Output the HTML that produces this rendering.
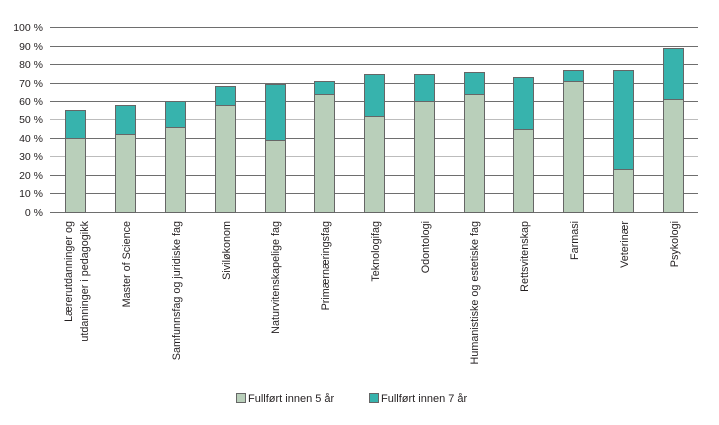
<!DOCTYPE html>
<html><head><meta charset="utf-8"><style>
html,body{margin:0;padding:0;background:#fff;}
svg{display:block;}
text{font-family:"Liberation Sans",Arial,sans-serif;font-size:10.5px;fill:#231f20;}
.xl{font-size:10.8px;}
.lg{font-size:11px;}
</style></head><body>
<svg width="719" height="425" viewBox="0 0 719 425" xmlns="http://www.w3.org/2000/svg">
<g stroke-width="1" shape-rendering="crispEdges">
<line x1="50" y1="27.5" x2="698" y2="27.5" stroke="#6e6e6e"/>
<line x1="50" y1="46.5" x2="698" y2="46.5" stroke="#6e6e6e"/>
<line x1="50" y1="64.5" x2="698" y2="64.5" stroke="#6e6e6e"/>
<line x1="50" y1="83.5" x2="698" y2="83.5" stroke="#6e6e6e"/>
<line x1="50" y1="101.5" x2="698" y2="101.5" stroke="#6e6e6e"/>
<line x1="50" y1="119.5" x2="698" y2="119.5" stroke="#bcbcbc"/>
<line x1="50" y1="138.5" x2="698" y2="138.5" stroke="#6e6e6e"/>
<line x1="50" y1="156.5" x2="698" y2="156.5" stroke="#bcbcbc"/>
<line x1="50" y1="175.5" x2="698" y2="175.5" stroke="#6e6e6e"/>
<line x1="50" y1="193.5" x2="698" y2="193.5" stroke="#6e6e6e"/>
<line x1="50" y1="212.5" x2="698" y2="212.5" stroke="#6e6e6e"/>
</g>
<g text-anchor="end">
<text x="43" y="31">100 %</text>
<text x="43" y="50">90 %</text>
<text x="43" y="68">80 %</text>
<text x="43" y="87">70 %</text>
<text x="43" y="105">60 %</text>
<text x="43" y="123">50 %</text>
<text x="43" y="142">40 %</text>
<text x="43" y="160">30 %</text>
<text x="43" y="179">20 %</text>
<text x="43" y="197">10 %</text>
<text x="43" y="216">0 %</text>
</g>
<g stroke="#666" stroke-width="1" shape-rendering="crispEdges">
<rect x="65.5" y="138.5" width="20" height="74" fill="#b9cfba"/><rect x="65.5" y="110.5" width="20" height="28" fill="#37b3ad"/>
<rect x="115.5" y="134.5" width="20" height="78" fill="#b9cfba"/><rect x="115.5" y="105.5" width="20" height="29" fill="#37b3ad"/>
<rect x="165.5" y="127.5" width="20" height="85" fill="#b9cfba"/><rect x="165.5" y="101.5" width="20" height="26" fill="#37b3ad"/>
<rect x="215.5" y="105.5" width="20" height="107" fill="#b9cfba"/><rect x="215.5" y="86.5" width="20" height="19" fill="#37b3ad"/>
<rect x="265.5" y="140.5" width="20" height="72" fill="#b9cfba"/><rect x="265.5" y="84.5" width="20" height="56" fill="#37b3ad"/>
<rect x="314.5" y="94.5" width="20" height="118" fill="#b9cfba"/><rect x="314.5" y="81.5" width="20" height="13" fill="#37b3ad"/>
<rect x="364.5" y="116.5" width="20" height="96" fill="#b9cfba"/><rect x="364.5" y="74.5" width="20" height="42" fill="#37b3ad"/>
<rect x="414.5" y="101.5" width="20" height="111" fill="#b9cfba"/><rect x="414.5" y="74.5" width="20" height="27" fill="#37b3ad"/>
<rect x="464.5" y="94.5" width="20" height="118" fill="#b9cfba"/><rect x="464.5" y="72.5" width="20" height="22" fill="#37b3ad"/>
<rect x="513.5" y="129.5" width="20" height="83" fill="#b9cfba"/><rect x="513.5" y="77.5" width="20" height="52" fill="#37b3ad"/>
<rect x="563.5" y="81.5" width="20" height="131" fill="#b9cfba"/><rect x="563.5" y="70.5" width="20" height="11" fill="#37b3ad"/>
<rect x="613.5" y="169.5" width="20" height="43" fill="#b9cfba"/><rect x="613.5" y="70.5" width="20" height="99" fill="#37b3ad"/>
<rect x="663.5" y="99.5" width="20" height="113" fill="#b9cfba"/><rect x="663.5" y="48.5" width="20" height="51" fill="#37b3ad"/>
</g>
<g text-anchor="end" class="xl">
<text class="xl" transform="translate(72,221) rotate(-90)">Lærerutdanninger og</text>
<text class="xl" transform="translate(88,221) rotate(-90)">utdanninger i pedagogikk</text>
<text class="xl" transform="translate(130,221) rotate(-90)">Master of Science</text>
<text class="xl" transform="translate(180,221) rotate(-90)">Samfunnsfag og juridiske fag</text>
<text class="xl" transform="translate(230,221) rotate(-90)">Siviløkonom</text>
<text class="xl" transform="translate(279,221) rotate(-90)">Naturvitenskapelige fag</text>
<text class="xl" transform="translate(329,221) rotate(-90)">Primærnæringsfag</text>
<text class="xl" transform="translate(379,221) rotate(-90)">Teknologifag</text>
<text class="xl" transform="translate(429,221) rotate(-90)">Odontologi</text>
<text class="xl" transform="translate(478,221) rotate(-90)">Humanistiske og estetiske fag</text>
<text class="xl" transform="translate(528,221) rotate(-90)">Rettsvitenskap</text>
<text class="xl" transform="translate(578,221) rotate(-90)">Farmasi</text>
<text class="xl" transform="translate(628,221) rotate(-90)">Veterinær</text>
<text class="xl" transform="translate(678,221) rotate(-90)">Psykologi</text>
</g>
<rect x="236.5" y="393.5" width="9" height="9" fill="#b9cfba" stroke="#666" shape-rendering="crispEdges"/>
<text class="lg" x="248" y="402">Fullført innen 5 år</text>
<rect x="369.5" y="393.5" width="9" height="9" fill="#37b3ad" stroke="#666" shape-rendering="crispEdges"/>
<text class="lg" x="381" y="402">Fullført innen 7 år</text>
</svg>
</body></html>
